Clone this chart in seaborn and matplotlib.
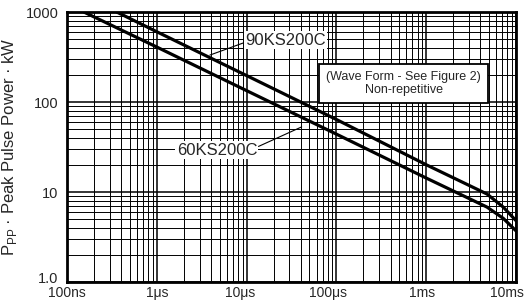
import numpy as np
import pandas as pd
import matplotlib
matplotlib.use("Agg")
import matplotlib.pyplot as plt
from matplotlib.ticker import LogLocator, FixedLocator, FixedFormatter, NullFormatter
from matplotlib.transforms import ScaledTranslation
import seaborn as sns

# pulse width (s) and peak pulse power (kW)
t_90 = [3.6e-7, 1e-6, 1e-5, 1e-4, 1e-3, 4.75e-3, 7.2e-3, 1e-2]
p_90 = [1000, 605, 197, 64, 20.1, 9.5, 6.8, 4.8]
t_60 = [1.55e-7, 1e-6, 1e-5, 1e-4, 1e-3, 4.75e-3, 7.2e-3, 1e-2]
p_60 = [1000, 409, 134, 44, 14.3, 6.8, 5.1, 3.7]

x_ticks = [1e-7, 1e-6, 1e-5, 1e-4, 1e-3, 1e-2]
x_labels = ["100ns", "1\u03bcs", "10\u03bcs", "100\u03bcs", "1ms", "10ms"]
y_ticks = [1, 10, 100, 1000]
y_labels = ["1.0", "10", "100", "1000"]

df = pd.concat([
    pd.DataFrame({"t": t_90, "p": p_90, "device": "90KS200C"}),
    pd.DataFrame({"t": t_60, "p": p_60, "device": "60KS200C"}),
])

sns.set_style("white")
plt.rcParams["font.family"] = ["Liberation Sans", "DejaVu Sans"]

fig = plt.figure(figsize=(5.25, 3.03), dpi=100)
ax = fig.add_axes([0.1276, 0.0693, 0.983 - 0.1276, 0.960 - 0.0693])

sns.lineplot(data=df, x="t", y="p", hue="device", palette=["black", "black"],
             linewidth=2.3, legend=False, ax=ax, sort=False, zorder=5)

ax.set_xscale("log")
ax.set_yscale("log")
ax.set_xlim(1e-7, 1e-2)
ax.set_ylim(1, 1000)

ax.xaxis.set_major_locator(FixedLocator(x_ticks))
ax.xaxis.set_major_formatter(FixedFormatter(x_labels))
ax.yaxis.set_major_locator(FixedLocator(y_ticks))
ax.yaxis.set_major_formatter(FixedFormatter(y_labels))
ax.xaxis.set_minor_locator(LogLocator(base=10, subs=np.arange(2, 10)))
ax.yaxis.set_minor_locator(LogLocator(base=10, subs=np.arange(2, 10)))
ax.xaxis.set_minor_formatter(NullFormatter())
ax.yaxis.set_minor_formatter(NullFormatter())

ax.grid(which="major", color="black", linewidth=1.1)
ax.grid(which="minor", color="black", linewidth=0.7)
ax.tick_params(which="both", length=0)
ax.tick_params(axis="x", labelsize=10, pad=3)
ax.tick_params(axis="y", labelsize=10.5, pad=6)
for s in ax.spines.values():
    s.set_color("black")
    s.set_linewidth(2.0)

# nudge tick labels like the printed sheet
fig.canvas.draw()
x_shift = [0, 0, -6, -8, -4, -9]
for lab, dx in zip(ax.get_xticklabels(), x_shift):
    lab.set_transform(lab.get_transform() + ScaledTranslation(dx / 100, 0, fig.dpi_scale_trans))
ylabs = ax.get_yticklabels()
ylabs[0].set_transform(ylabs[0].get_transform() + ScaledTranslation(0, 5 / 100, fig.dpi_scale_trans))

ax.set_xlabel("")
ax.set_ylabel("P$_{\\mathregular{PP}}$ \u00b7 Peak Pulse Power \u00b7 kW", fontsize=12)
ax.yaxis.set_label_coords(-0.106, 0.5)

ax.annotate("90KS200C", xy=(3.9e-6, 333), xytext=(9.6e-6, 489),
            fontsize=12, va="center", ha="left",
            bbox=dict(facecolor="white", edgecolor="none", pad=1),
            arrowprops=dict(arrowstyle="-", color="black", lw=0.8,
                            shrinkA=0, shrinkB=0, relpos=(0, 0.35)), zorder=6)
ax.annotate("60KS200C", xy=(4.1e-5, 53), xytext=(1.31e-5, 29.3),
            fontsize=12, va="center", ha="right",
            bbox=dict(facecolor="white", edgecolor="none", pad=1),
            arrowprops=dict(arrowstyle="-", color="black", lw=0.8,
                            shrinkA=0, shrinkB=0, relpos=(1, 0.7)), zorder=6)

ax.text(5.58e-4, 161, "(Wave Form - See Figure 2)\nNon-repetitive",
        fontsize=9, ha="center", va="center", linespacing=1.2, zorder=7,
        bbox=dict(boxstyle="square,pad=0.55", facecolor="white",
                  edgecolor="black", linewidth=1.3))

fig.savefig("out.png", dpi=100)
